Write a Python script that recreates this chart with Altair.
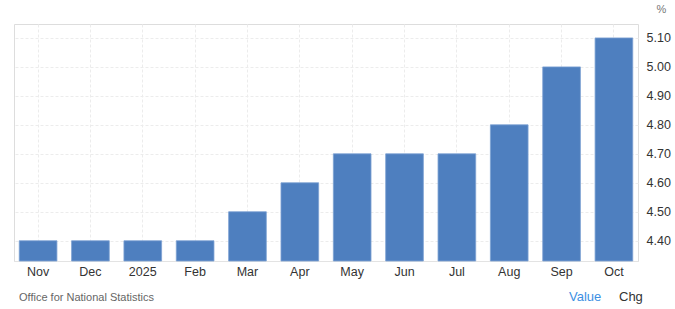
import altair as alt
import pandas as pd

months = ["Nov", "Dec", "2025", "Feb", "Mar", "Apr", "May", "Jun", "Jul", "Aug", "Sep", "Oct"]
values = [4.4, 4.4, 4.4, 4.4, 4.5, 4.6, 4.7, 4.7, 4.7, 4.8, 5.0, 5.1]
y_ticks = [4.4, 4.5, 4.6, 4.7, 4.8, 4.9, 5.0, 5.1]
y_domain = [4.33, 5.148]

df = pd.DataFrame({"month": months, "value": values, "base": [y_domain[0]] * len(months)})

W, H = 624, 237
FONT = "Liberation Sans"

x = alt.X("month:N", sort=months, title=None,
          scale=alt.Scale(paddingInner=0.28, paddingOuter=0.1),
          axis=alt.Axis(labelAngle=0, labelFontSize=12.5, labelColor="#333333", labelFont=FONT,
                        ticks=False, domain=True, domainColor="#e3e3e3", labelPadding=4,
                        grid=True, gridColor="#ececec", gridDash=[3, 2], bandPosition=0.5))
y = alt.Y("value:Q", title="%",
          scale=alt.Scale(domain=y_domain, zero=False, nice=False),
          axis=alt.Axis(orient="right", values=y_ticks, format=".2f", labelFontSize=12.5,
                        labelColor="#333333", labelFont=FONT, ticks=False, domain=False,
                        labelPadding=8, grid=True, gridColor="#ececec", gridDash=[3, 2],
                        titleAngle=0, titleFont=FONT, titleFontSize=11, titleFontWeight="normal",
                        titleColor="#777777", titleAlign="left", titleBaseline="middle",
                        titleX=18, titleY=-15))

bars = alt.Chart(df).mark_bar(color="#4e7fbf", stroke="#7ea2d3", strokeWidth=0.8).encode(
    x=x, y=y, y2="base:Q"
)

src = alt.Chart(pd.DataFrame({"t": ["Office for National Statistics"]})).mark_text(
    align="left", baseline="middle", font=FONT, fontSize=11, color="#666666"
).encode(x=alt.value(5), y=alt.value(274), text="t:N")

val = alt.Chart(pd.DataFrame({"t": ["Value"]})).mark_text(
    align="left", baseline="middle", font=FONT, fontSize=13, color="#3d90e3"
).encode(x=alt.value(555), y=alt.value(273), text="t:N")

chg = alt.Chart(pd.DataFrame({"t": ["Chg"]})).mark_text(
    align="left", baseline="middle", font=FONT, fontSize=13, color="#333333"
).encode(x=alt.value(605), y=alt.value(273), text="t:N")

chart = alt.layer(bars, src, val, chg).properties(
    width=W, height=H,
    padding={"left": 14, "top": 24, "right": 37, "bottom": 48},
    autosize=alt.AutoSizeParams(type="none"),
).configure_view(stroke="#e6e6e6", strokeDash=[3, 2]).configure(background="white")

chart.save("out.html", embed_options={"renderer": "svg", "actions": False})
